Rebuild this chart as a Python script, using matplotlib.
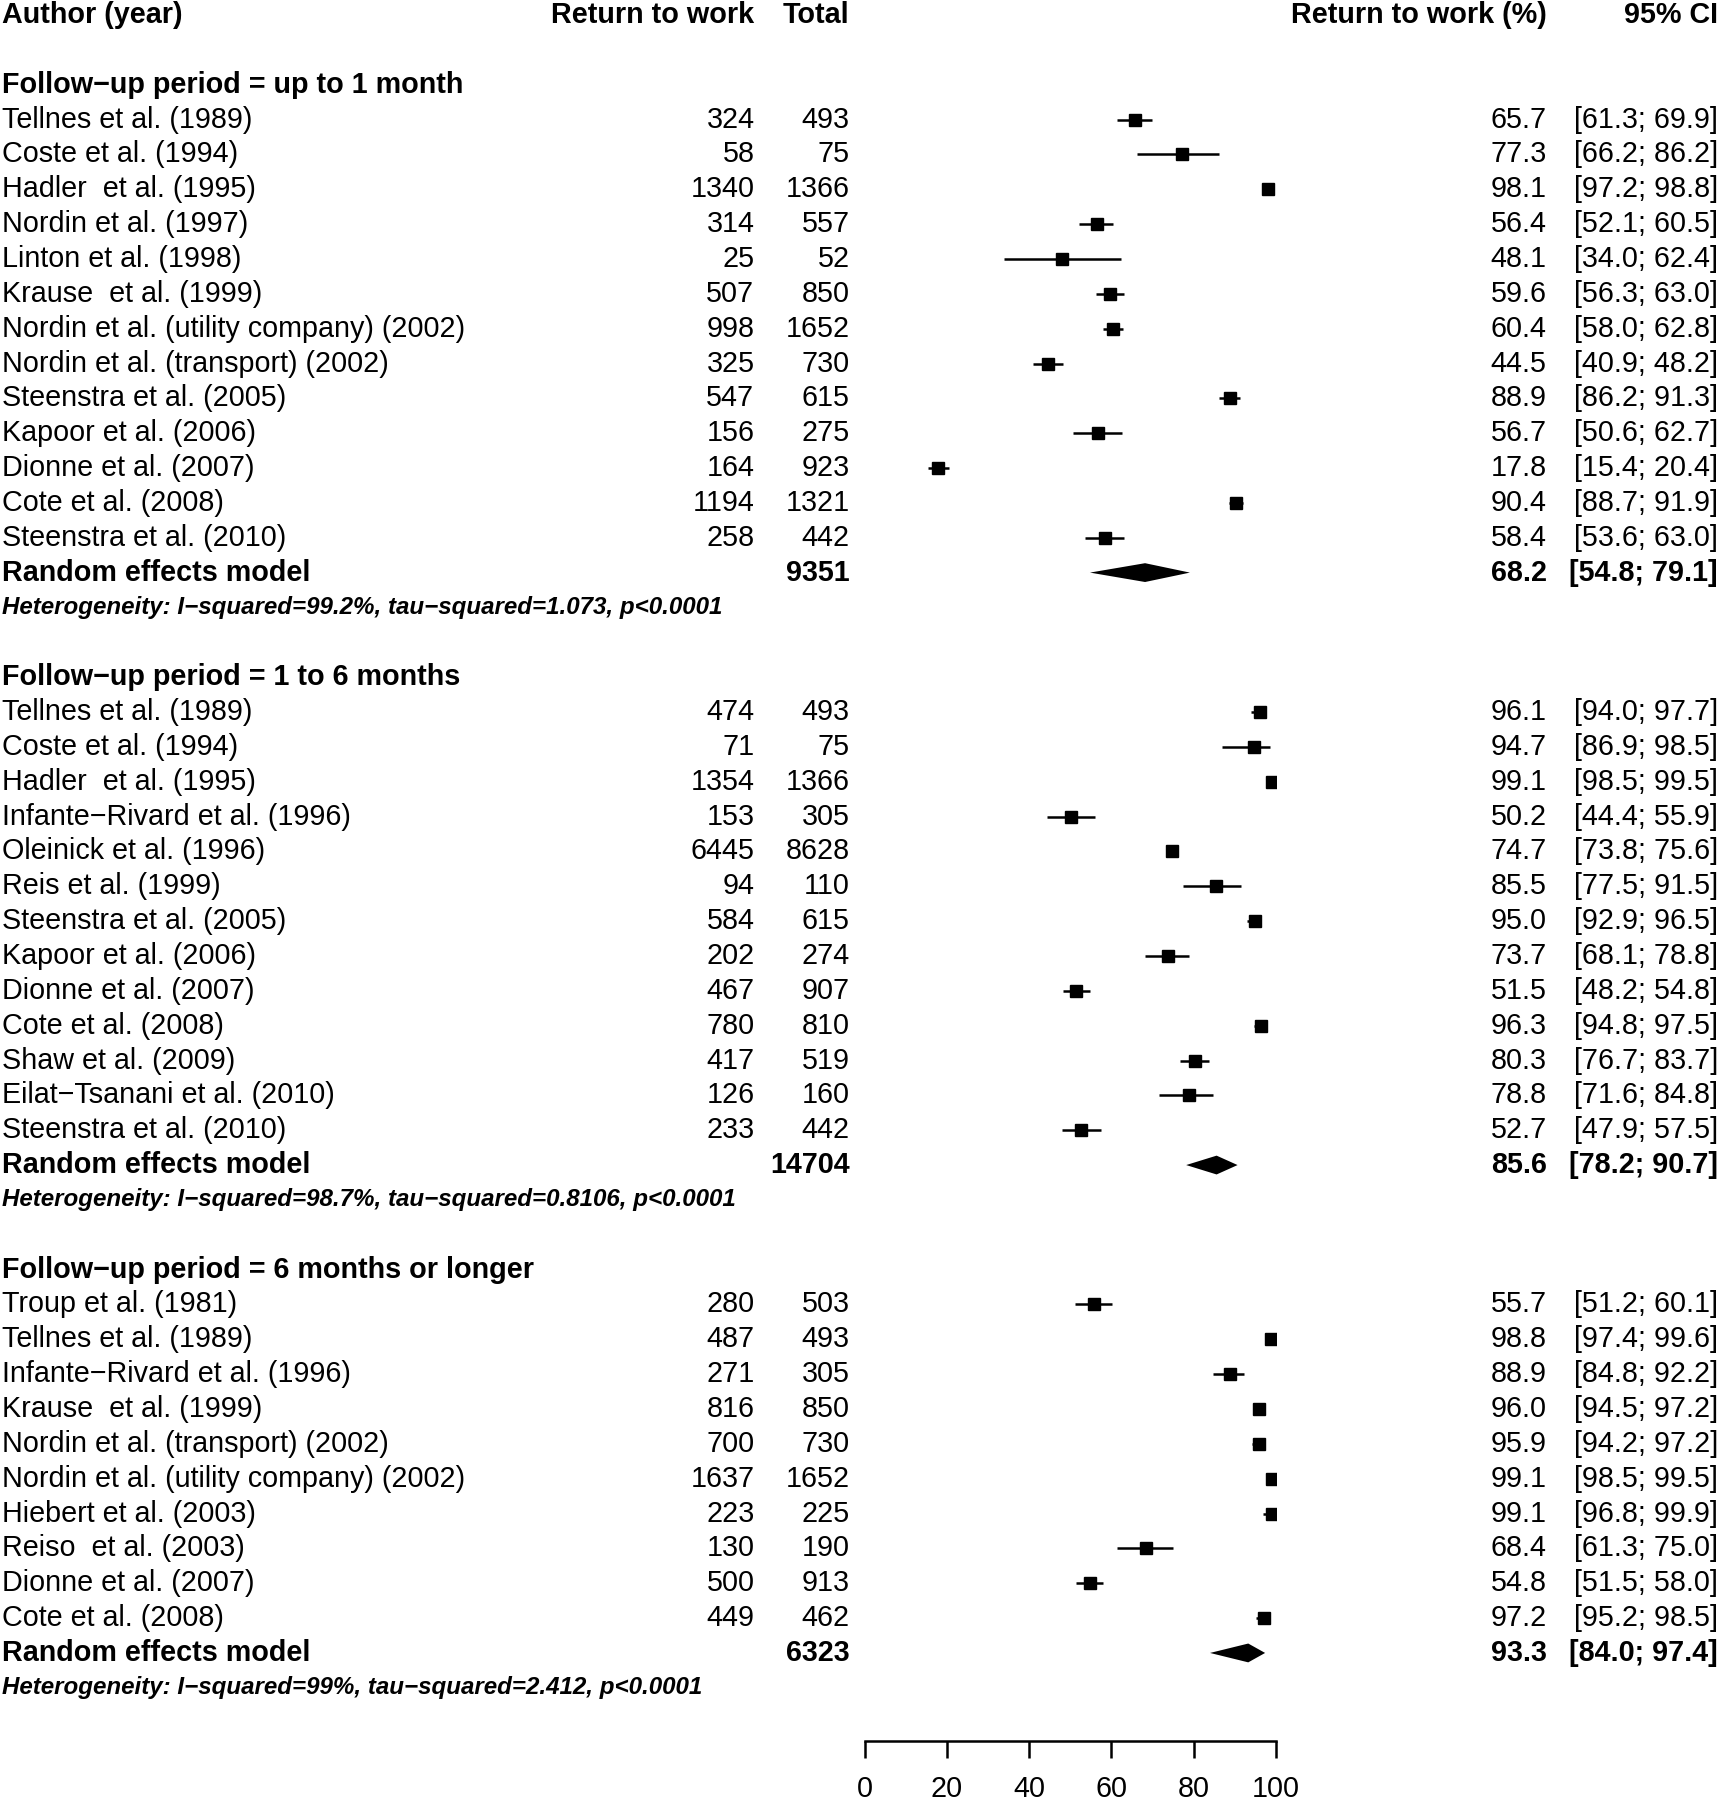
import matplotlib
matplotlib.use("Agg")
import matplotlib.pyplot as plt
from matplotlib.transforms import blended_transform_factory

plt.rcParams['font.family'] = ['Liberation Sans', 'DejaVu Sans']

M = "\u2212"

# group 1: follow-up up to 1 month
g1_title = "Follow" + M + "up period = up to 1 month"
g1_study = ["Tellnes et al. (1989)", "Coste et al. (1994)", "Hadler  et al. (1995)",
            "Nordin et al. (1997)", "Linton et al. (1998)", "Krause  et al. (1999)",
            "Nordin et al. (utility company) (2002)", "Nordin et al. (transport) (2002)",
            "Steenstra et al. (2005)", "Kapoor et al. (2006)", "Dionne et al. (2007)",
            "Cote et al. (2008)", "Steenstra et al. (2010)"]
g1_events = [324, 58, 1340, 314, 25, 507, 998, 325, 547, 156, 164, 1194, 258]
g1_total = [493, 75, 1366, 557, 52, 850, 1652, 730, 615, 275, 923, 1321, 442]
g1_pct = [65.7, 77.3, 98.1, 56.4, 48.1, 59.6, 60.4, 44.5, 88.9, 56.7, 17.8, 90.4, 58.4]
g1_lo = [61.3, 66.2, 97.2, 52.1, 34.0, 56.3, 58.0, 40.9, 86.2, 50.6, 15.4, 88.7, 53.6]
g1_hi = [69.9, 86.2, 98.8, 60.5, 62.4, 63.0, 62.8, 48.2, 91.3, 62.7, 20.4, 91.9, 63.0]
g1_re = (9351, 68.2, 54.8, 79.1)
g1_het = "Heterogeneity: I" + M + "squared=99.2%, tau" + M + "squared=1.073, p<0.0001"

# group 2: 1 to 6 months
g2_title = "Follow" + M + "up period = 1 to 6 months"
g2_study = ["Tellnes et al. (1989)", "Coste et al. (1994)", "Hadler  et al. (1995)",
            "Infante" + M + "Rivard et al. (1996)", "Oleinick et al. (1996)", "Reis et al. (1999)",
            "Steenstra et al. (2005)", "Kapoor et al. (2006)", "Dionne et al. (2007)",
            "Cote et al. (2008)", "Shaw et al. (2009)", "Eilat" + M + "Tsanani et al. (2010)",
            "Steenstra et al. (2010)"]
g2_events = [474, 71, 1354, 153, 6445, 94, 584, 202, 467, 780, 417, 126, 233]
g2_total = [493, 75, 1366, 305, 8628, 110, 615, 274, 907, 810, 519, 160, 442]
g2_pct = [96.1, 94.7, 99.1, 50.2, 74.7, 85.5, 95.0, 73.7, 51.5, 96.3, 80.3, 78.8, 52.7]
g2_lo = [94.0, 86.9, 98.5, 44.4, 73.8, 77.5, 92.9, 68.1, 48.2, 94.8, 76.7, 71.6, 47.9]
g2_hi = [97.7, 98.5, 99.5, 55.9, 75.6, 91.5, 96.5, 78.8, 54.8, 97.5, 83.7, 84.8, 57.5]
g2_re = (14704, 85.6, 78.2, 90.7)
g2_het = "Heterogeneity: I" + M + "squared=98.7%, tau" + M + "squared=0.8106, p<0.0001"

# group 3: 6 months or longer
g3_title = "Follow" + M + "up period = 6 months or longer"
g3_study = ["Troup et al. (1981)", "Tellnes et al. (1989)", "Infante" + M + "Rivard et al. (1996)",
            "Krause  et al. (1999)", "Nordin et al. (transport) (2002)",
            "Nordin et al. (utility company) (2002)", "Hiebert et al. (2003)",
            "Reiso  et al. (2003)", "Dionne et al. (2007)", "Cote et al. (2008)"]
g3_events = [280, 487, 271, 816, 700, 1637, 223, 130, 500, 449]
g3_total = [503, 493, 305, 850, 730, 1652, 225, 190, 913, 462]
g3_pct = [55.7, 98.8, 88.9, 96.0, 95.9, 99.1, 99.1, 68.4, 54.8, 97.2]
g3_lo = [51.2, 97.4, 84.8, 94.5, 94.2, 98.5, 96.8, 61.3, 51.5, 95.2]
g3_hi = [60.1, 99.6, 92.2, 97.2, 97.2, 99.5, 99.9, 75.0, 58.0, 98.5]
g3_re = (6323, 93.3, 84.0, 97.4)
g3_het = "Heterogeneity: I" + M + "squared=99%, tau" + M + "squared=2.412, p<0.0001"

headers = ["Author (year)", "Return to work", "Total", "Return to work (%)", "95% CI"]
xticks = [0, 20, 40, 60, 80, 100]

groups = [
    (g1_title, g1_study, g1_events, g1_total, g1_pct, g1_lo, g1_hi, g1_re, g1_het),
    (g2_title, g2_study, g2_events, g2_total, g2_pct, g2_lo, g2_hi, g2_re, g2_het),
    (g3_title, g3_study, g3_events, g3_total, g3_pct, g3_lo, g3_hi, g3_re, g3_het),
]

W, H = 1727, 1800
fig = plt.figure(figsize=(W / 100, H / 100), dpi=100)
ax_x0, ax_x1 = 864.7 / W, 1275.8 / W
ax = fig.add_axes([ax_x0, 0, ax_x1 - ax_x0, 1])
row0, rowh = 15.0, 34.85
ax.set_ylim((H - row0) / rowh, -row0 / rowh)
ax.set_xlim(0, 100)

tr = blended_transform_factory(fig.transFigure, ax.transData)
col_x = [2.3 / W, 754.5 / W, 849.7 / W, 1546.8 / W, 1717.9 / W]
col_ha = ["left", "right", "right", "right", "right"]
fs = 20.7
hfs = 17.4


def put_row(r, vals, bold=False):
    for v, x, ha in zip(vals, col_x, col_ha):
        if v is None:
            continue
        ax.text(x, r, v, transform=tr, ha=ha, va="center", fontsize=fs,
                fontweight="bold" if bold else "normal", clip_on=False)


put_row(0, headers, bold=True)

r = 2
for title, study, ev, tot, pct, lo, hi, re, het in groups:
    ax.text(col_x[0], r, title, transform=tr, ha="left", va="center",
            fontsize=fs, fontweight="bold")
    r += 1
    for i in range(len(study)):
        put_row(r, [study[i], str(ev[i]), str(tot[i]), "%.1f" % pct[i],
                    "[%.1f; %.1f]" % (lo[i], hi[i])])
        ax.plot([lo[i], hi[i]], [r, r], color="black", lw=1.8, solid_capstyle="butt")
        ax.plot(pct[i], r, marker="s", color="black", markersize=8.4)
        r += 1
    n, est, rlo, rhi = re
    put_row(r, ["Random effects model", None, str(n), "%.1f" % est,
                "[%.1f; %.1f]" % (rlo, rhi)], bold=True)
    dh = 0.27
    ax.fill([rlo, est, rhi, est], [r, r - dh, r, r + dh], color="black", lw=0)
    r += 1
    ax.text(col_x[0], r, het, transform=tr, ha="left", va="center",
            fontsize=hfs, fontweight="bold", fontstyle="italic")
    r += 2

# x axis
for s in ["top", "left", "right"]:
    ax.spines[s].set_visible(False)
ax.spines["bottom"].set_position(("data", 49.52))
ax.spines["bottom"].set_bounds(0, 100)
ax.spines["bottom"].set_linewidth(1.8)
ax.set_xticks(xticks)
ax.set_xticklabels([str(t) for t in xticks])
ax.tick_params(axis="x", length=12, width=1.8, pad=13, labelsize=fs)
ax.set_yticks([])
ax.patch.set_alpha(0)

fig.savefig("out.png", dpi=100)
